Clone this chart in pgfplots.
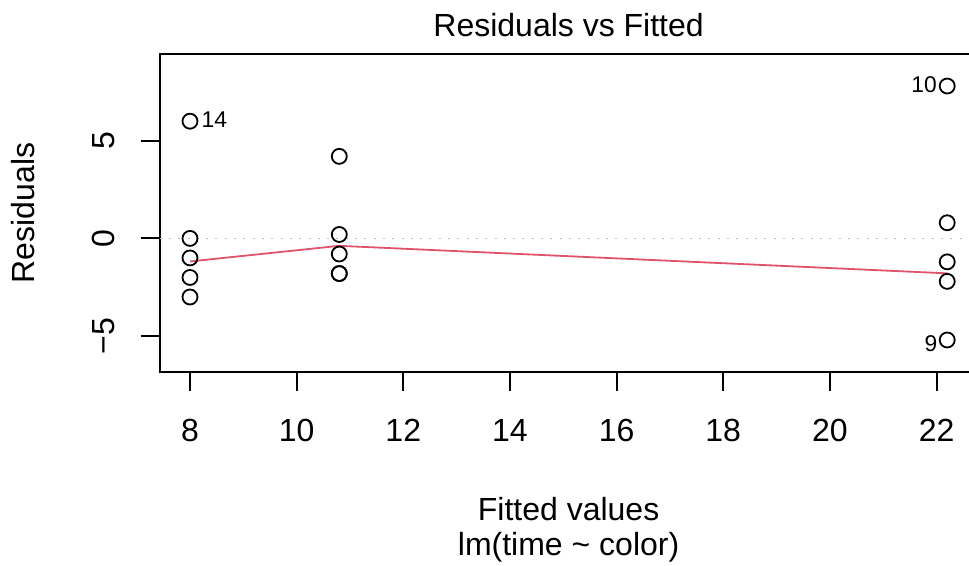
\documentclass[border=0pt]{standalone}
\usepackage{fontspec}
\setmainfont{Liberation Sans}
\usepackage{pgfplots}
\pgfplotsset{compat=1.18}
\definecolor{rred}{HTML}{DF536B}
\definecolor{rgray}{HTML}{BEBEBE}
\newcommand{\mainfont}{\fontsize{16}{19}\selectfont}
\newcommand{\smallfont}{\fontsize{11.4}{13}\selectfont}
\begin{document}
\begin{tikzpicture}
\begin{axis}[
  name=ax,
  scale only axis,
  width=408.9pt, height=159pt,
  xmin=7.432, xmax=22.768, ymin=-6.84, ymax=9.44,
  axis line style={line width=0.95pt},
  clip=false,
  xtick={8,10,12,14,16,18,20,22},
  xticklabels={8,10,12,14,16,18,20,22},
  ytick={-5,0,5},
  yticklabels={−5,0,5},
  tick align=outside,
  xtick pos=bottom, ytick pos=left,
  major tick length=9.5pt,
  every tick/.style={black, line width=0.95pt},
  tick label style={font=\mainfont, inner sep=0pt},
  xticklabel style={anchor=base, yshift=-25.2pt},
  yticklabel style={xshift=-12.85pt, rotate=90, anchor=base},
]
\addplot[rgray, line width=0.7pt, dash pattern=on 1pt off 3.65pt] coordinates {(7.432,0) (22.768,0)};
\addplot[only marks, mark=o, mark size=3.75pt, mark options={line width=0.9pt}, black] coordinates {
  (8,6) (8,0) (8,-1) (8,-2) (8,-3)
  (10.8,4.2) (10.8,0.2) (10.8,-0.8) (10.8,-1.8) (10.8,-1.8)
  (22.2,7.8) (22.2,0.8) (22.2,-1.2) (22.2,-2.2) (22.2,-5.2)
};
\addplot[rred, line width=0.9pt] coordinates {(8,-1.18) (10.8,-0.38) (22.2,-1.79)};
\node[anchor=west, inner sep=0pt, font=\smallfont, xshift=5.6pt, yshift=0.7pt] at (axis cs:8,6) {14};
\node[anchor=east, inner sep=0pt, font=\smallfont, xshift=-5pt, yshift=0.5pt] at (axis cs:22.2,7.8) {10};
\node[anchor=east, inner sep=0pt, font=\smallfont, xshift=-4.7pt, yshift=-2pt] at (axis cs:22.2,-5.2) {9};
\node[anchor=base, font=\mainfont, inner sep=0pt, yshift=8.5pt] at (rel axis cs:0.5,1) {Residuals vs Fitted};
\node[anchor=base, font=\mainfont, inner sep=0pt, yshift=-74pt] at (rel axis cs:0.5,0) {Fitted values};
\node[anchor=base, font=\mainfont, inner sep=0pt, yshift=-91.5pt] at (rel axis cs:0.5,0) {lm(time \textasciitilde{} color)};
\node[anchor=base, font=\mainfont, inner sep=0pt, xshift=-62.35pt, rotate=90] at (rel axis cs:0,0.5) {Residuals};
\end{axis}
\pgfresetboundingbox
\path[use as bounding box] ([xshift=-79.85pt,yshift=-96.5pt]ax.south west) rectangle ([xshift=404.65pt,yshift=27pt]ax.south west |- ax.north west);
\end{tikzpicture}
\end{document}
